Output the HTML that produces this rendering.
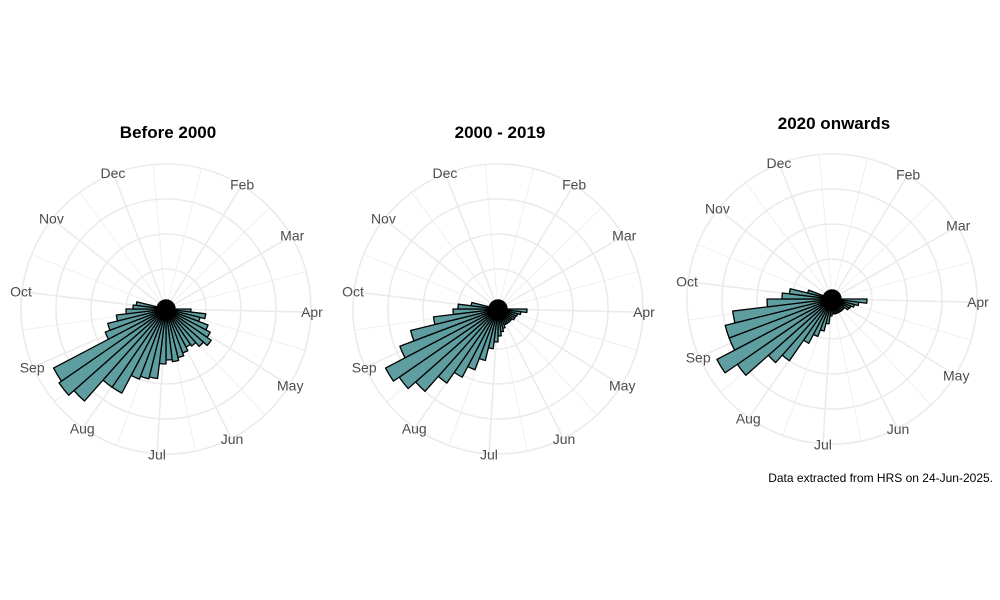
<!DOCTYPE html>
<html><head><meta charset="utf-8"><style>
body{margin:0;background:#fff;}
svg{display:block;font-family:"Liberation Sans",sans-serif;}
</style></head><body>
<svg id="chart" width="1000" height="600">
<rect width="1000" height="600" fill="#fff"/>
<text x="993" y="482" text-anchor="end" font-size="12" fill="#000">Data extracted from HRS on 24-Jun-2025.</text>
</svg>
<script>
const months = ["Feb","Mar","Apr","May","Jun","Jul","Aug","Sep","Oct","Nov","Dec"];
const monthStartDay = [31,59,90,120,151,181,212,243,273,304,334];
const minorDays = [350,14,45,74,105,135,166,197,227,258,288,319];
const titles = ["Before 2000","2000 - 2019","2020 onwards"];
const gridValues = [35,70,105,140];
const firstWeek = 13;
const seriesBefore2000 = [20,35,30,40,45,50,45,40,38,42,45,48,46,50,65,67,70,90,90,118,125,122,60,55,45,35,28,25];
const series2000to2019 = [24,18,15,14,14,12,12,12,12,12,15,18,22,28,35,48,60,72,85,105,115,122,100,85,60,40,35,22];
const series2020on = [30,22,18,15,14,10,10,10,10,10,10,10,10,12,20,28,35,45,70,80,110,125,105,105,95,60,45,38,20];
const baseValue = 4;
const allSeries = [seriesBefore2000, series2000to2019, series2020on];
const centers = [[166,309],[498,309],[832,299]];
const titleY = [138,138,129];
const NS = "http://www.w3.org/2000/svg";
const svg = document.getElementById("chart");
const nWeeks = 52;
function rScale(v){ return 5 + v; }
function angleOfDay(d){ return d/355*360; }
function pt(cx,cy,r,a){ const t=a*Math.PI/180; return [cx+r*Math.sin(t), cy-r*Math.cos(t)]; }
function mk(tag, attrs){ const e=document.createElementNS(NS,tag); for(const k in attrs) e.setAttribute(k,attrs[k]); return e; }
allSeries.forEach((ser, p) => {
  const [cx,cy] = centers[p];
  const g = mk("g",{});
  
  
  svg.appendChild(g);
  const t = mk("text",{x:cx+2,y:titleY[p],"text-anchor":"middle","font-size":"17","font-weight":"bold",fill:"#000"});
  
  
  t.textContent = titles[p]; g.appendChild(t);
  const rOuter = rScale(gridValues[gridValues.length-1]);
  minorDays.forEach(d => {
    const [x,y] = pt(cx,cy,rOuter,angleOfDay(d));
    const l = mk("line",{x1:cx,y1:cy,x2:x,y2:y,stroke:"#f0f0f0","stroke-width":"1"});
    
    
    g.appendChild(l);
  });
  monthStartDay.forEach(d => {
    const [x,y] = pt(cx,cy,rOuter,angleOfDay(d));
    const l = mk("line",{x1:cx,y1:cy,x2:x,y2:y,stroke:"#ebebeb","stroke-width":"1.6"});
    
    
    g.appendChild(l);
  });
  gridValues.forEach(v => {
    const c = mk("circle",{cx:cx,cy:cy,r:rScale(v),fill:"none",stroke:"#ebebeb","stroke-width":"1.6"});
    
    
    g.appendChild(c);
  });
  months.forEach((m,i) => {
    const [x,y] = pt(cx,cy,rOuter+1,angleOfDay(monthStartDay[i]));
    const lt = mk("text",{x:x,y:y+5,"text-anchor":"middle","font-size":"14",fill:"#4d4d4d"});
    
    
    lt.textContent = m; g.appendChild(lt);
  });
  const step = 360/nWeeks;
  for(let i=0;i<nWeeks;i++){
    const idx = i - firstWeek;
    const v = (idx>=0 && idx<ser.length) ? ser[idx] : baseValue;
    const a0 = i*step, a1 = (i+1)*step, r = rScale(v), r0 = 1;
    const p1=pt(cx,cy,r0,a0), p2=pt(cx,cy,r,a0), p3=pt(cx,cy,r,a1), p4=pt(cx,cy,r0,a1);
    const d = `M${p1[0]},${p1[1]}L${p2[0]},${p2[1]}A${r},${r} 0 0 1 ${p3[0]},${p3[1]}L${p4[0]},${p4[1]}Z`;
    const b = mk("path",{d:d,fill:"#5f9ea0",stroke:"#000","stroke-width":"1.3","stroke-linejoin":"round"});
    
    
    g.appendChild(b);
  }
});
</script>
</body></html>
